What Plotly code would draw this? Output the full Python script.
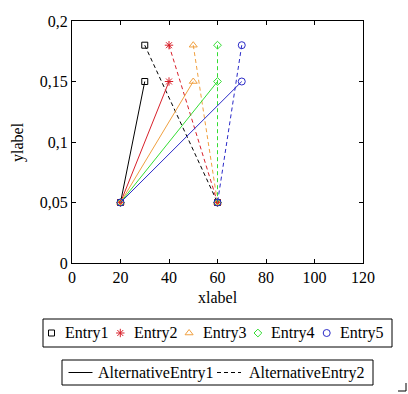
import plotly.graph_objects as go

# ---- data ----
entry_names = ["Entry1", "Entry2", "Entry3", "Entry4", "Entry5"]
start_x = [20, 20, 20, 20, 20]
start_y = [0.05, 0.05, 0.05, 0.05, 0.05]
peak_x = [30, 40, 50, 60, 70]
solid_end_y = [0.15, 0.15, 0.15, 0.15, 0.15]
dashed_start_y = [0.18, 0.18, 0.18, 0.18, 0.18]
dashed_end_x = [60, 60, 60, 60, 60]
dashed_end_y = [0.05, 0.05, 0.05, 0.05, 0.05]
alt_names = ["AlternativeEntry1", "AlternativeEntry2"]

x_tickvals = [0, 20, 40, 60, 80, 100, 120]
x_ticktext = ["0", "20", "40", "60", "80", "100", "120"]
y_tickvals = [0, 0.05, 0.1, 0.15, 0.2]
y_ticktext = ["0", "0,05", "0,1", "0,15", "0,2"]

# ---- styles ----
colors = ["#000000", "#d8202a", "#f0a040", "#33dd33", "#2a2ac8"]
symbols = ["square-open", "asterisk-open", "triangle-up-open", "diamond-open", "circle-open"]
sizes = [6, 7, 7, 6, 7]
DASH = "4px,3px"
FONT = "Liberation Serif, serif"
FS = 16

W, H = 408, 394
PL, PR, PT, PB = 72, 363, 21, 263  # plot area in px


def px(x):
    return x / W


def py(y):
    return 1 - y / H


fig = go.Figure()

for i in range(len(entry_names)):
    mk = dict(symbol=symbols[i], size=sizes[i], color=colors[i], line=dict(width=1, color=colors[i]))
    fig.add_trace(go.Scatter(
        x=[start_x[i], peak_x[i]], y=[start_y[i], solid_end_y[i]],
        mode="lines+markers", line=dict(color=colors[i], width=1), marker=mk,
        showlegend=False, hoverinfo="skip", cliponaxis=False))
    fig.add_trace(go.Scatter(
        x=[peak_x[i], dashed_end_x[i]], y=[dashed_start_y[i], dashed_end_y[i]],
        mode="lines+markers", line=dict(color=colors[i], width=1, dash=DASH), marker=mk,
        showlegend=False, hoverinfo="skip", cliponaxis=False))

# ---- manual legends on an overlay pixel axis ----
L1 = dict(x0=43, x1=392, y0=319, y1=347, first=51.5, step=68.8, gap=11.5)
L2 = dict(x0=62, x1=373, y0=360, y1=385)

shapes = []
annotations = []
for L in (L1, L2):
    shapes.append(dict(type="rect", xref="paper", yref="paper",
                       x0=px(L["x0"]), x1=px(L["x1"]), y0=py(L["y1"]), y1=py(L["y0"]),
                       line=dict(color="black", width=1), fillcolor="rgba(0,0,0,0)"))

cy1 = (L1["y0"] + L1["y1"]) / 2
for i, name in enumerate(entry_names):
    sx = L1["first"] + i * L1["step"]
    fig.add_trace(go.Scatter(
        x=[sx], y=[cy1], xaxis="x2", yaxis="y2", mode="markers",
        marker=dict(symbol=symbols[i], size=sizes[i], color=colors[i], line=dict(width=1, color=colors[i])),
        showlegend=False, hoverinfo="skip"))
    annotations.append(dict(x=px(sx + L1["gap"]), y=py(cy1), xref="paper", yref="paper",
                            text=name, showarrow=False, xanchor="left", yanchor="middle",
                            font=dict(family=FONT, size=FS, color="black")))

cy2 = (L2["y0"] + L2["y1"]) / 2
alt_lines = [(68.5, 92.5, "solid", 96.0), (217, 241, DASH, 246.5)]
for (a, b, d, tx), name in zip(alt_lines, alt_names):
    fig.add_trace(go.Scatter(
        x=[a, b], y=[cy2, cy2], xaxis="x2", yaxis="y2", mode="lines",
        line=dict(color="black", width=1, dash=d), showlegend=False, hoverinfo="skip"))
    annotations.append(dict(x=px(tx), y=py(cy2), xref="paper", yref="paper",
                            text=name, showarrow=False, xanchor="left", yanchor="middle",
                            font=dict(family=FONT, size=FS, color="black")))

# axis titles
annotations.append(dict(x=px((PL + PR) / 2), y=py(297), xref="paper", yref="paper", text="xlabel",
                        showarrow=False, xanchor="center", yanchor="middle",
                        font=dict(family=FONT, size=FS, color="black")))
annotations.append(dict(x=px(18), y=py(142), xref="paper", yref="paper", text="ylabel",
                        showarrow=False, xanchor="center", yanchor="middle", textangle=-90,
                        font=dict(family=FONT, size=FS, color="black")))

# crop mark at bottom right
shapes.append(dict(type="line", xref="paper", yref="paper", x0=px(406), x1=px(406), y0=py(383), y1=py(391),
                   line=dict(color="black", width=1)))
shapes.append(dict(type="line", xref="paper", yref="paper", x0=px(398), x1=px(406), y0=py(391), y1=py(391),
                   line=dict(color="black", width=1)))

axis_common = dict(showline=True, linecolor="black", linewidth=1, mirror="allticks",
                   ticks="inside", ticklen=4, tickwidth=1, tickcolor="black",
                   showgrid=False, zeroline=False, automargin=False,
                   tickfont=dict(family=FONT, size=FS, color="black"))

fig.update_layout(
    width=W, height=H,
    margin=dict(l=0, r=0, t=0, b=0, pad=0, autoexpand=False),
    paper_bgcolor="white", plot_bgcolor="rgba(0,0,0,0)",
    font=dict(family=FONT, size=FS, color="black"),
    xaxis=dict(domain=[px(PL), px(PR)], range=[0, 120], tickvals=x_tickvals, ticktext=x_ticktext,
               anchor="y", **axis_common),
    yaxis=dict(domain=[py(PB), py(PT)], range=[0, 0.2], tickvals=y_tickvals, ticktext=y_ticktext,
               anchor="x", **axis_common),
    xaxis2=dict(domain=[0, 1], range=[0, W], visible=False, anchor="y2", fixedrange=True, automargin=False),
    yaxis2=dict(domain=[0, 1], range=[H, 0], visible=False, anchor="x2", fixedrange=True, automargin=False),
    shapes=shapes,
    annotations=annotations,
    showlegend=False,
)

fig.write_html("out.html", config={"displayModeBar": False},
               post_script="document.body.style.margin='0';document.body.style.overflow='hidden';")
